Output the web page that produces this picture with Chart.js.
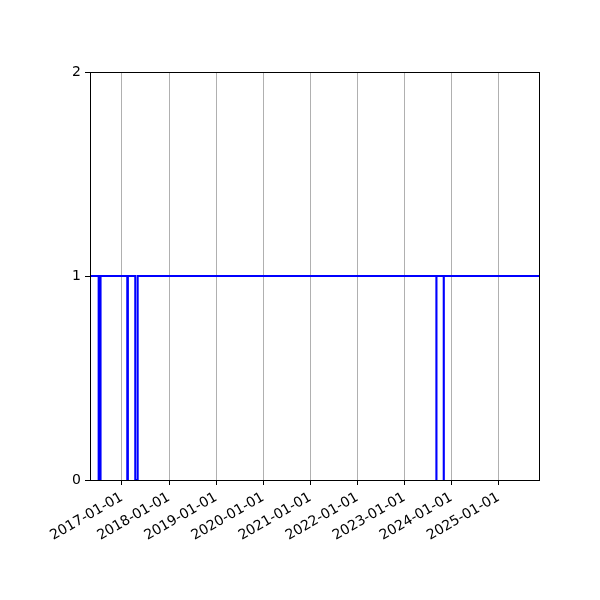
<!DOCTYPE html>
<html>
<head>
<meta charset="utf-8">
<title>Status chart</title>
<script src="https://cdn.jsdelivr.net/npm/chart.js@4/dist/chart.umd.min.js"></script>
<style>
    body { margin: 0; background: #fff; }
    #wrap { width: 600px; height: 600px; }
</style>
</head>
<body>
<div id="wrap"><canvas id="status-chart" width="600" height="600"></canvas></div>
<script>
// step series: each value holds until the next date
const dates = [
    '2016-04-28', '2016-07-04', '2016-07-19',
    '2017-02-11', '2017-02-16',
    '2017-04-14', '2017-05-03',
    '2023-09-06', '2023-09-07',
    '2023-11-02', '2023-11-03',
    '2025-11-18'
];
const values = [1, 0, 1, 0, 1, 0, 1, 0, 1, 0, 1, 1];
const tickYears = [2017, 2018, 2019, 2020, 2021, 2022, 2023, 2024, 2025];
const yTicks = [0, 1, 2];

const ctx = document.getElementById('status-chart').getContext('2d');

function toMs(d) {
    return Date.parse(d + 'T00:00:00Z');
}

function formatDate(ms) {
    const d = new Date(ms);
    const m = String(d.getUTCMonth() + 1).padStart(2, '0');
    const day = String(d.getUTCDate()).padStart(2, '0');
    return `${d.getUTCFullYear()}-${m}-${day}`;
}

const points = dates.map((d, i) => ({ x: toMs(d), y: values[i] }));

// draws the four spines
const frame = {
    id: 'frame',
    afterDraw(chart) {
        const a = chart.chartArea;
        const c = chart.ctx;
        c.save();
        c.strokeStyle = '#000';
        c.lineWidth = 1;
        c.strokeRect(Math.round(a.left) + 0.5, Math.round(a.top) + 0.5,
            Math.round(a.right - a.left) - 1, Math.round(a.bottom - a.top));
        c.restore();
    }
};

const chart = new Chart(ctx, {
    type: 'line',
    data: {
        datasets: [{
            data: points,
            borderColor: '#0000ff',
            borderWidth: 2,
            pointRadius: 0,
            stepped: 'before',
            fill: false
        }]
    },
    options: {
        responsive: false,
        animation: false,
        devicePixelRatio: 1,
        layout: { padding: { left: 0, right: 60, top: 72, bottom: 0 } },
        plugins: { legend: { display: false }, tooltip: { enabled: false } },
        scales: {
            x: {
                type: 'linear',
                min: points[0].x,
                max: points[points.length - 1].x,
                afterBuildTicks: (scale) => {
                    scale.ticks = tickYears.map(y => ({ value: Date.UTC(y, 0, 1) }));
                },
                afterFit: (scale) => { scale.height = 120; },
                grid: {
                    color: '#b0b0b0',
                    lineWidth: 1,
                    tickColor: '#000',
                    tickLength: 5
                },
                border: { display: false },
                ticks: {
                    color: '#000',
                    font: { family: 'DejaVu Sans', size: 14 },
                    minRotation: 30,
                    maxRotation: 30,
                    autoSkip: false,
                    padding: 4,
                    callback: (v) => formatDate(v)
                }
            },
            y: {
                min: 0,
                max: 2,
                afterBuildTicks: (scale) => {
                    scale.ticks = yTicks.map(v => ({ value: v }));
                },
                afterFit: (scale) => { scale.width = 90; },
                grid: {
                    drawOnChartArea: false,
                    tickColor: '#000',
                    tickLength: 5
                },
                border: { display: false },
                ticks: {
                    color: '#000',
                    font: { family: 'DejaVu Sans', size: 14 },
                    padding: 4
                }
            }
        }
    },
    plugins: [frame]
});
</script>
</body>
</html>
